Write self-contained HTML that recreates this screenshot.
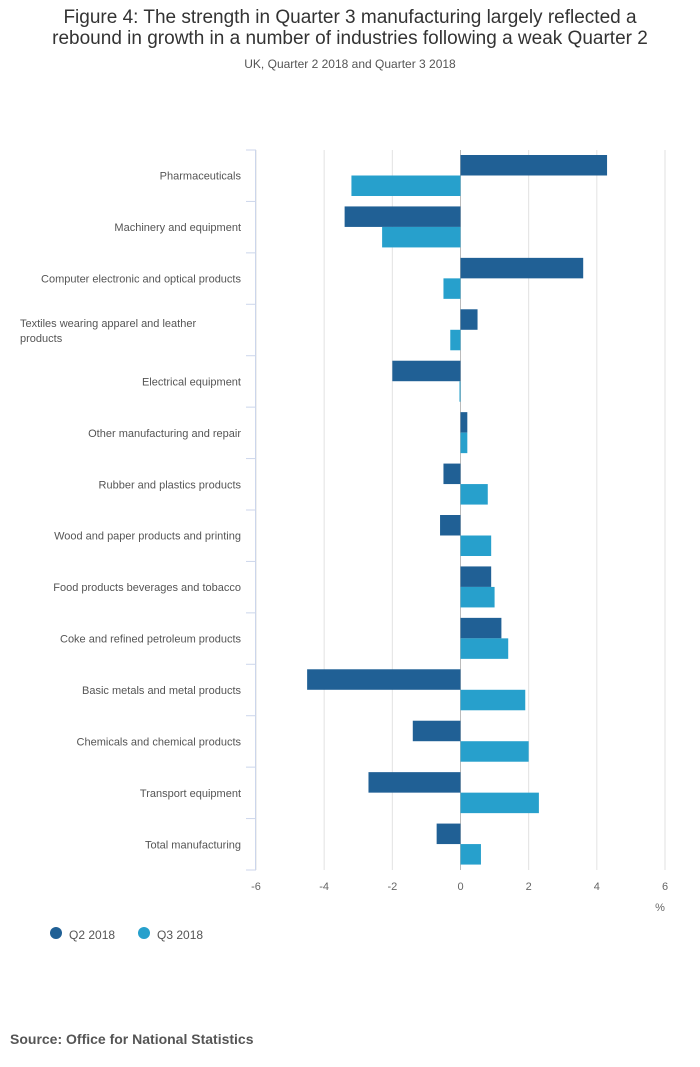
<!DOCTYPE html>
<html><head><meta charset="utf-8">
<style>
body{margin:0;background:#fff;font-family:"Liberation Sans","DejaVu Sans",sans-serif;}
#wrap{position:relative;width:700px;height:1067px;overflow:hidden;}
.t{position:absolute;width:700px;text-align:center;}
</style></head>
<body>
<div id="wrap">
<div class="t" style="top:7px;font-size:19px;line-height:21px;color:#333;">Figure 4: The strength in Quarter 3 manufacturing largely reflected a<br>rebound in growth in a number of industries following a weak Quarter 2</div>
<div class="t" style="top:57px;font-size:12px;color:#555;">UK, Quarter 2 2018 and Quarter 3 2018</div>
<svg id="chart" width="700" height="1067" style="position:absolute;left:0;top:0"></svg>
<div style="position:absolute;left:10px;top:1031px;font-size:14px;font-weight:bold;color:#555;">Source: Office for National Statistics</div>
</div>
<script>
const categories=["Pharmaceuticals","Machinery and equipment","Computer electronic and optical products","Textiles wearing apparel and leather products","Electrical equipment","Other manufacturing and repair","Rubber and plastics products","Wood and paper products and printing","Food products beverages and tobacco","Coke and refined petroleum products","Basic metals and metal products","Chemicals and chemical products","Transport equipment","Total manufacturing"];
const q2=[4.3,-3.4,3.6,0.5,-2.0,0.2,-0.5,-0.6,0.9,1.2,-4.5,-1.4,-2.7,-0.7];
const q3=[-3.2,-2.3,-0.5,-0.3,-0.03,0.2,0.8,0.9,1.0,1.4,1.9,2.0,2.3,0.6];
const ticks=[-6,-4,-2,0,2,4,6];
const NS="http://www.w3.org/2000/svg";
const svg=document.getElementById('chart');
const x0=256,x1=665,vmin=-6,vmax=6,yTop=150,yBot=870;
const x=v=>x0+(v-vmin)/(vmax-vmin)*(x1-x0);
const band=(yBot-yTop)/categories.length;
function mk(tag,a){const e=document.createElementNS(NS,tag);for(const k in a)e.setAttribute(k,a[k]);svg.appendChild(e);return e;}
ticks.forEach(t=>{
  const g=mk('line',{x1:x(t),x2:x(t),y1:yTop,y2:yBot,stroke:t===0?'#bbb':'#e2e2e2','stroke-width':1});
  
  
  const l=mk('text',{x:x(t),y:890,'text-anchor':'middle','font-size':11,fill:'#666'});
  l.textContent=t;
  
  
});
const ax=mk('line',{x1:x0-0.5,x2:x0-0.5,y1:yTop,y2:yBot,stroke:'#ccd6eb','stroke-width':1});


for(let i=0;i<=categories.length;i++){
  const tk=mk('line',{x1:x0-10,x2:x0,y1:yTop+i*band,y2:yTop+i*band,stroke:'#ccd6eb','stroke-width':1});
  
  
}
const unit=mk('text',{x:660,y:911,'text-anchor':'middle','font-size':11,fill:'#666'});
unit.textContent='%';


function bar(v,y,h,c){const a=Math.min(x(0),x(v)),w=Math.max(Math.abs(x(v)-x(0)),1);return mk('rect',{x:a,y:y,width:w,height:h,fill:c});}
categories.forEach((c,i)=>{
  const by=yTop+i*band;
  const b1=bar(q2[i],by+5,20.5,'#206095');
  
  
  const b2=bar(q3[i],by+25.5,20.5,'#27a0cc');
  
  
  const cy=by+band/2+4;
  const lab=mk('text',{'font-size':11,fill:'#555'});
  
  
  if(c.length>42){
    lab.setAttribute('x',20);
    const t1=document.createElementNS(NS,'tspan');t1.setAttribute('x',20);t1.setAttribute('y',cy-7);t1.textContent='Textiles wearing apparel and leather';lab.appendChild(t1);
    const t2=document.createElementNS(NS,'tspan');t2.setAttribute('x',20);t2.setAttribute('y',cy+8);t2.textContent='products';lab.appendChild(t2);
  } else {
    lab.setAttribute('x',241);lab.setAttribute('y',cy);lab.setAttribute('text-anchor','end');lab.textContent=c;
  }
});
[['Q2 2018','#206095',56],['Q3 2018','#27a0cc',144]].forEach(([n,c,lx])=>{
  const d=mk('circle',{cx:lx,cy:933,r:6,fill:c});
  
  
  const t=mk('text',{x:lx+13,y:939,'font-size':12,fill:'#555'});
  t.textContent=n;
  
  
});
</script>
</body></html>
